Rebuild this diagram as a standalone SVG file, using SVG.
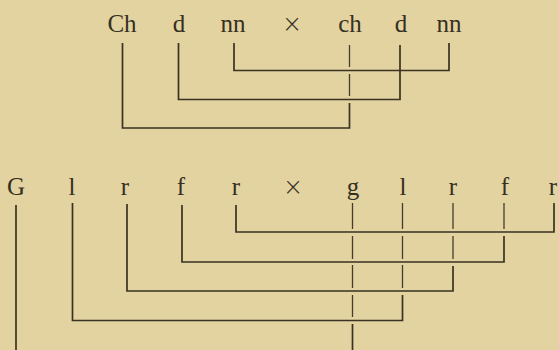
<svg xmlns="http://www.w3.org/2000/svg" width="559" height="350" viewBox="0 0 559 350">
<style>
text{font-family:"Liberation Serif","DejaVu Serif",serif;font-size:25px;fill:#35301f;text-anchor:middle}
.x{font-size:24px;font-family:"DejaVu Sans","Liberation Sans",sans-serif;font-weight:200}
.c{fill:none;stroke:#3a3222;stroke-width:1.7}
.t{fill:none;stroke:#453d2b;stroke-width:1.3}
</style>
<rect width="559" height="350" fill="#e3d3a1"/>
<g id="top-Ch"><text x="122" y="31.5">Ch</text></g>
<g id="top-d1"><text x="179" y="31.5">d</text></g>
<g id="top-nn1"><text x="233" y="31.5">nn</text></g>
<g id="top-x"><text class="x" x="292" y="31.5">×</text></g>
<g id="top-ch"><text x="350" y="31.5">ch</text></g>
<g id="top-d2"><text x="401" y="31.5">d</text></g>
<g id="top-nn2"><text x="449" y="31.5">nn</text></g>
<g id="bot-G"><text x="16" y="195">G</text></g>
<g id="bot-l1"><text x="72" y="195">l</text></g>
<g id="bot-r1"><text x="125" y="195">r</text></g>
<g id="bot-f1"><text x="181" y="195">f</text></g>
<g id="bot-r2"><text x="236" y="195">r</text></g>
<g id="bot-x"><text class="x" x="293" y="195">×</text></g>
<g id="bot-g"><text x="353" y="195">g</text></g>
<g id="bot-l2"><text x="403" y="195">l</text></g>
<g id="bot-r3"><text x="453" y="195">r</text></g>
<g id="bot-f2"><text x="505" y="195">f</text></g>
<g id="bot-r4"><text x="553" y="195">r</text></g>
<g id="connectors">
<path class="c" d="M122.5,43 V128 H349.5 V103"/>
<path class="t" d="M349.5,45 V67 M349.5,74 V96"/>
<path class="c" d="M178.5,43 V99.5 H400 V45"/>
<path class="c" d="M234,43 V70.5 H449 V43"/>
<path class="c" d="M16,205 V350"/>
<path class="c" d="M72.5,203 V320.5 H402.5 V295"/>
<path class="t" d="M402.5,203 V229 M402.5,236 V259 M402.5,265 V288"/>
<path class="c" d="M127,204 V291 H453 V266"/>
<path class="t" d="M453,203 V229 M453,236 V259"/>
<path class="c" d="M182,205 V262 H504 V236"/>
<path class="t" d="M504,203 V229"/>
<path class="c" d="M236,205 V232 H554 V203"/>
<path class="t" d="M352.5,203 V229 M352.5,236 V259 M352.5,265 V288 M352.5,295 V317"/>
<path class="c" d="M352.5,324 V350"/>
</g>
</svg>
